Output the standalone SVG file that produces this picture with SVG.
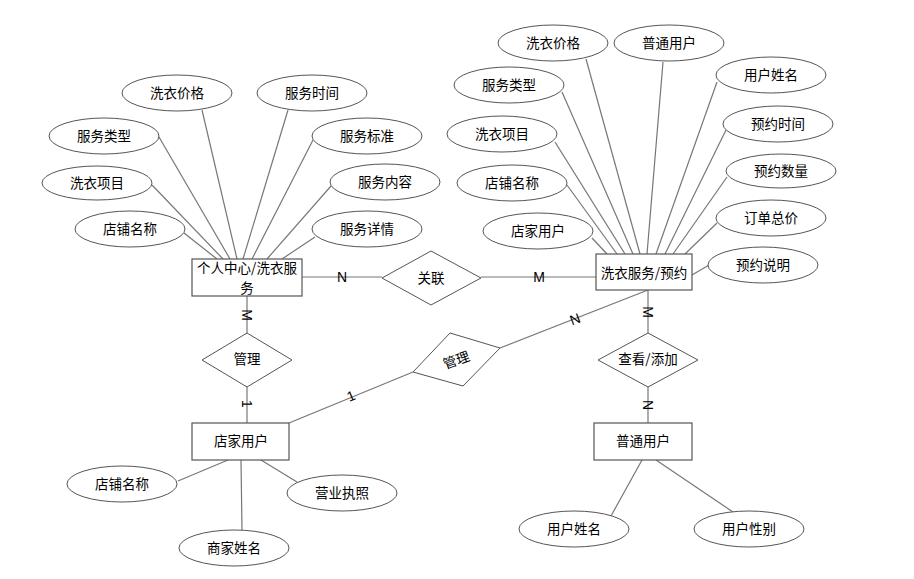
<svg xmlns="http://www.w3.org/2000/svg" width="914" height="579" viewBox="0 0 914 579">
<style>
.e{fill:#fff;stroke:#555;stroke-width:1}
.r{fill:#fff;stroke:#555;stroke-width:1.2}
.d{fill:#fff;stroke:#555;stroke-width:1}
.c line,.c polyline{stroke:#777;stroke-width:1.2;fill:none}
text{font-family:"Noto Sans CJK SC","Liberation Sans",sans-serif;font-size:13.5px;fill:#000;text-anchor:middle;dominant-baseline:central}
.l{font-family:"Liberation Sans",Arial,sans-serif;font-size:14px}
</style>
<rect width="914" height="579" fill="#fff"/>
<g class="c" id="connectors">
<line x1="184" y1="233" x2="217" y2="259"/>
<line x1="152" y1="185" x2="223" y2="259"/>
<line x1="159" y1="137" x2="230" y2="259"/>
<line x1="202" y1="110" x2="237" y2="259"/>
<line x1="288" y1="110" x2="243" y2="259"/>
<line x1="313" y1="140" x2="252" y2="259"/>
<line x1="331" y1="186" x2="267" y2="259"/>
<line x1="315" y1="237" x2="282" y2="259"/>
<line x1="592" y1="238" x2="607" y2="254"/>
<line x1="567" y1="185" x2="617" y2="254"/>
<line x1="555" y1="142" x2="625" y2="254"/>
<line x1="562" y1="92" x2="633" y2="254"/>
<line x1="586" y1="59" x2="640" y2="254"/>
<line x1="663" y1="62" x2="647" y2="254"/>
<line x1="717" y1="82" x2="656" y2="254"/>
<line x1="726" y1="130" x2="665" y2="254"/>
<line x1="727" y1="177" x2="673" y2="254"/>
<line x1="717" y1="223" x2="685" y2="254"/>
<line x1="709" y1="265" x2="692" y2="275"/>
<line x1="302" y1="277" x2="382" y2="277"/>
<line x1="481" y1="277" x2="596" y2="277"/>
<line x1="247" y1="296" x2="247" y2="333"/>
<line x1="247" y1="387" x2="247" y2="423"/>
<line x1="648" y1="290" x2="648" y2="333"/>
<line x1="648" y1="387" x2="648" y2="423"/>
<line x1="289" y1="423" x2="413" y2="372"/>
<line x1="500" y1="348" x2="648" y2="290"/>
<line x1="228" y1="460" x2="178" y2="481"/>
<line x1="241" y1="460" x2="242" y2="530"/>
<line x1="261" y1="460" x2="297" y2="482"/>
<line x1="642" y1="460" x2="611" y2="516"/>
<line x1="656" y1="460" x2="733" y2="512"/>
<text class="l" x="342" y="277">N</text>
<text class="l" x="539" y="277">M</text>
<text class="l" transform="translate(247,315) rotate(90)">M</text>
<text class="l" transform="translate(247,404) rotate(90)">1</text>
<text class="l" transform="translate(648,312) rotate(90)">M</text>
<text class="l" transform="translate(648,405) rotate(90)">N</text>
<text class="l" transform="translate(351,396) rotate(-22.7)">1</text>
<text class="l" transform="translate(575,319) rotate(-20.6)">N</text>
</g>
<g id="e_personal_service"><rect class="r" x="192" y="259" width="110" height="37"/><text x="247" y="267">个人中心/洗衣服</text><text x="247" y="287">务</text></g>
<g id="e_laundry_booking"><rect class="r" x="596" y="254" width="96" height="36"/><text x="644" y="272">洗衣服务/预约</text></g>
<g id="e_shop_user"><rect class="r" x="192" y="423" width="97" height="37"/><text x="241" y="440">店家用户</text></g>
<g id="e_normal_user"><rect class="r" x="594" y="423" width="98" height="37"/><text x="643" y="440">普通用户</text></g>
<g id="r_relate"><polygon class="d" points="382,278 431,251 481,278 431,305"/><text x="431" y="277">关联</text></g>
<g id="r_manage1"><polygon class="d" points="202,360 247,333 292,360 247,387"/><text x="247" y="358">管理</text></g>
<g id="r_view"><polygon class="d" points="598,360 648,333 698,360 648,387"/><text x="648" y="358">查看/添加</text></g>
<g id="r_manage2"><polygon class="d" points="413,372 450,333 500,348 463,386"/><text transform="translate(456,359) rotate(-20)">管理</text></g>
<g id="a_l_price"><ellipse class="e" cx="177" cy="93" rx="55" ry="18"/><text x="177" y="92">洗衣价格</text></g>
<g id="a_l_time"><ellipse class="e" cx="312" cy="93" rx="55" ry="18"/><text x="312" y="92">服务时间</text></g>
<g id="a_l_type"><ellipse class="e" cx="104" cy="136" rx="55" ry="18"/><text x="104" y="135">服务类型</text></g>
<g id="a_l_std"><ellipse class="e" cx="367" cy="136" rx="55" ry="18"/><text x="367" y="135">服务标准</text></g>
<g id="a_l_item"><ellipse class="e" cx="97" cy="183" rx="55" ry="17"/><text x="97" y="182">洗衣项目</text></g>
<g id="a_l_content"><ellipse class="e" cx="385" cy="182" rx="55" ry="18"/><text x="385" y="181">服务内容</text></g>
<g id="a_l_shop"><ellipse class="e" cx="130" cy="229" rx="55" ry="18"/><text x="130" y="228">店铺名称</text></g>
<g id="a_l_detail"><ellipse class="e" cx="367" cy="229" rx="55" ry="18"/><text x="367" y="228">服务详情</text></g>
<g id="a_r_price"><ellipse class="e" cx="553" cy="43" rx="55" ry="18"/><text x="553" y="42">洗衣价格</text></g>
<g id="a_r_user"><ellipse class="e" cx="669" cy="43" rx="55" ry="18"/><text x="669" y="42">普通用户</text></g>
<g id="a_r_type"><ellipse class="e" cx="509" cy="85" rx="55" ry="18"/><text x="509" y="84">服务类型</text></g>
<g id="a_r_uname"><ellipse class="e" cx="771" cy="75" rx="55" ry="18"/><text x="771" y="74">用户姓名</text></g>
<g id="a_r_item"><ellipse class="e" cx="502" cy="134" rx="55" ry="18"/><text x="502" y="133">洗衣项目</text></g>
<g id="a_r_btime"><ellipse class="e" cx="778" cy="124" rx="55" ry="18"/><text x="778" y="123">预约时间</text></g>
<g id="a_r_shop"><ellipse class="e" cx="512" cy="183" rx="55" ry="18"/><text x="512" y="182">店铺名称</text></g>
<g id="a_r_qty"><ellipse class="e" cx="781" cy="171" rx="55" ry="17"/><text x="781" y="170">预约数量</text></g>
<g id="a_r_shopuser"><ellipse class="e" cx="538" cy="231" rx="55" ry="18"/><text x="538" y="230">店家用户</text></g>
<g id="a_r_total"><ellipse class="e" cx="771" cy="218" rx="55" ry="18"/><text x="771" y="217">订单总价</text></g>
<g id="a_r_note"><ellipse class="e" cx="763" cy="265" rx="55" ry="18"/><text x="763" y="264">预约说明</text></g>
<g id="a_s_shop"><ellipse class="e" cx="122" cy="484" rx="55" ry="18"/><text x="122" y="483">店铺名称</text></g>
<g id="a_s_license"><ellipse class="e" cx="342" cy="493" rx="55" ry="18"/><text x="342" y="492">营业执照</text></g>
<g id="a_s_name"><ellipse class="e" cx="234" cy="548" rx="55" ry="18"/><text x="234" y="547">商家姓名</text></g>
<g id="a_u_name"><ellipse class="e" cx="574" cy="529" rx="55" ry="18"/><text x="574" y="528">用户姓名</text></g>
<g id="a_u_gender"><ellipse class="e" cx="749" cy="529" rx="55" ry="18"/><text x="749" y="528">用户性别</text></g>
</svg>
